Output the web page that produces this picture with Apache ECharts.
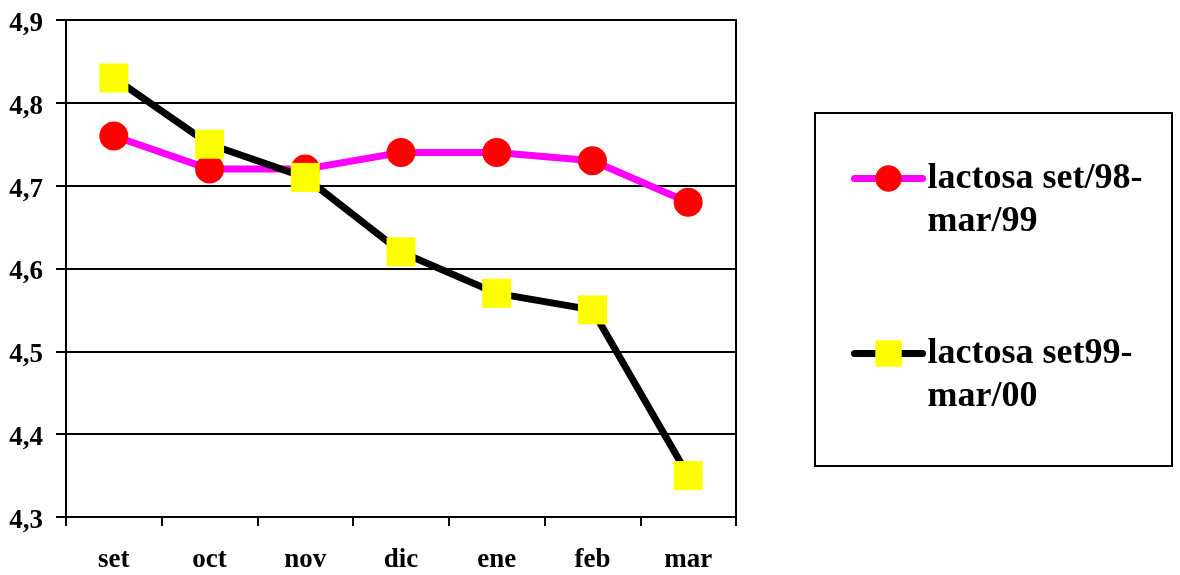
<!DOCTYPE html>
<html>
<head>
<meta charset="utf-8">
<script src="https://cdn.jsdelivr.net/npm/echarts@6/dist/echarts.min.js"></script>
<style>
  html, body { margin: 0; padding: 0; background: #fff; }
  #chart { width: 1180px; height: 575px; }
</style>
</head>
<body>
<div id="chart"></div>
<script>
// Monthly lactose content, two seasons
const months = ['set', 'oct', 'nov', 'dic', 'ene', 'feb', 'mar'];
const season9899 = [4.76, 4.72, 4.72, 4.74, 4.74, 4.73, 4.68];
const season9900 = [4.83, 4.75, 4.71, 4.62, 4.57, 4.55, 4.35];
const seriesNames = ['lactosa set/98-\nmar/99', 'lactosa set99-\nmar/00'];
const yMin = 4.3, yMax = 4.9, yStep = 0.1;

const font = '"Liberation Serif", "Times New Roman", serif';
const chart = echarts.init(document.getElementById('chart'));

chart.setOption({
  backgroundColor: '#fff',
  animation: false,
  grid: {
    left: 66, right: 444, top: 20, bottom: 58,
    show: true, borderColor: '#000', borderWidth: 2, backgroundColor: 'transparent'
  },
  graphic: [{
    type: 'rect',
    shape: { x: 815, y: 113, width: 357, height: 353 },
    style: { fill: 'transparent', stroke: '#000', lineWidth: 2 },
    z: 0
  }],
  legend: {
    orient: 'vertical',
    left: 846, top: 109,
    itemWidth: 68, itemHeight: 33,
    itemGap: 46,
    selectedMode: false,
    lineStyle: { width: 7, cap: 'round' },
    // leading blank line keeps the first text line level with the icon
    formatter: name => '\n' + name,
    textStyle: {
      fontFamily: font, fontWeight: 'bold', fontSize: 36, color: '#000',
      lineHeight: 43
    },
    data: seriesNames
  },
  xAxis: {
    type: 'category',
    data: months,
    boundaryGap: true,
    axisLine: { lineStyle: { color: '#000', width: 2 } },
    axisTick: { show: true, length: 9, lineStyle: { color: '#000', width: 2 } },
    axisLabel: { fontFamily: font, fontWeight: 'bold', fontSize: 27, color: '#000', margin: 30 }
  },
  yAxis: {
    type: 'value',
    min: yMin, max: yMax, interval: yStep,
    axisLine: { show: true, lineStyle: { color: '#000', width: 2 } },
    axisTick: { show: true, length: 10, lineStyle: { color: '#000', width: 2 } },
    splitLine: { lineStyle: { color: '#000', width: 2 } },
    axisLabel: {
      color: '#000', margin: 23,
      formatter: v => '{v|' + v.toFixed(1).replace('.', ',') + '}',
      rich: {
        v: {
          fontFamily: font, fontWeight: 'bold', fontSize: 27, color: '#000',
          padding: [8, 0, 0, 0]
        }
      }
    }
  },
  series: [
    {
      name: seriesNames[0],
      type: 'line',
      data: season9899,
      symbol: 'circle', symbolSize: 29,
      lineStyle: { color: '#FF00FF', width: 7 },
      itemStyle: { color: '#FF0000' },
      z: 2
    },
    {
      name: seriesNames[1],
      type: 'line',
      data: season9900,
      symbol: 'rect', symbolSize: 29,
      lineStyle: { color: '#000000', width: 7 },
      itemStyle: { color: '#FFFF00' },
      z: 3
    }
  ]
});
</script>
</body>
</html>
